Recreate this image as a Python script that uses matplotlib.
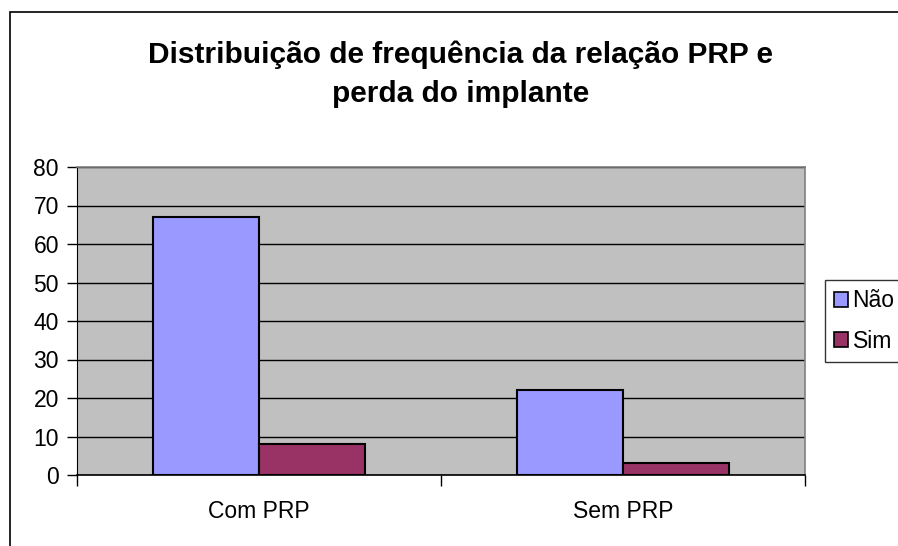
"""
Distribuição de frequência da relação PRP e perda do implante
Excel-style grouped bar chart
"""
import matplotlib
matplotlib.use('Agg')
import matplotlib.pyplot as plt
import matplotlib.patches as mpatches
import numpy as np

plt.rcParams['font.family'] = ['Liberation Sans', 'DejaVu Sans']

# data
categories = ['Com PRP', 'Sem PRP']
series_names = ['Não', 'Sim']
nao = [67, 22]
sim = [8, 3]
colors = ['#9999FF', '#993366']
y_ticks = [0, 10, 20, 30, 40, 50, 60, 70, 80]

W, H = 898, 546
fig = plt.figure(figsize=(W / 100, H / 100), dpi=100)

# outer chart border (cut off at the right and bottom like the source)
fig.patches.append(mpatches.Rectangle((10 / W, -0.1), 1.2, 1 - 12 / H + 0.1,
                                      transform=fig.transFigure, fill=False,
                                      edgecolor='black', lw=1.2))

ax = fig.add_axes([77 / W, 1 - 475 / H, (805 - 77) / W, (475 - 167) / H])
ax.set_facecolor('#C0C0C0')

x = np.arange(len(categories))
bw = 0.29
ax.bar(x - bw / 2, nao, bw, color=colors[0], edgecolor='black', lw=1.5,
       label=series_names[0], zorder=3)
ax.bar(x + bw / 2, sim, bw, color=colors[1], edgecolor='black', lw=1.5,
       label=series_names[1], zorder=3)

ax.set_xlim(-0.5, 1.5)
ax.set_ylim(0, 80)
ax.set_yticks(y_ticks)
ax.yaxis.grid(True, color='black', lw=1)
ax.set_axisbelow(True)

# category labels between tick marks
ax.set_xticks([-0.5, 0.5, 1.5])
ax.set_xticklabels([])
ax.set_xticks(x, minor=True)
ax.set_xticklabels(categories, minor=True)
ax.tick_params(axis='x', which='minor', length=0, pad=18, labelsize=16.5)
ax.tick_params(axis='x', which='major', length=8, width=1, direction='out')
ax.tick_params(axis='y', length=7, width=1, labelsize=16.5, pad=6)

for side in ['top', 'right']:
    ax.spines[side].set_color('#808080')
    ax.spines[side].set_linewidth(1.2)
ax.spines['left'].set_color('black')
ax.spines['bottom'].set_color('black')
ax.spines['bottom'].set_linewidth(1.2)

fig.text(461 / W, 1 - 74 / H,
         'Distribuição de frequência da relação PRP e\nperda do implante',
         ha='center', va='center', fontsize=21.5, fontweight='bold',
         linespacing=1.5)

# legend is clipped by the right edge, as in the source image
handles = [mpatches.Patch(facecolor=c, edgecolor='black', lw=1.2)
           for c in colors]
fig.legend(handles, series_names, loc='center left',
           bbox_to_anchor=(825 / W, 1 - 321 / H), fontsize=16.5,
           frameon=True, fancybox=False, edgecolor='black',
           handlelength=0.6, handleheight=0.6, handletextpad=0.2,
           borderpad=0.4, labelspacing=0.75, borderaxespad=0)

fig.savefig('out.png', dpi=100)
